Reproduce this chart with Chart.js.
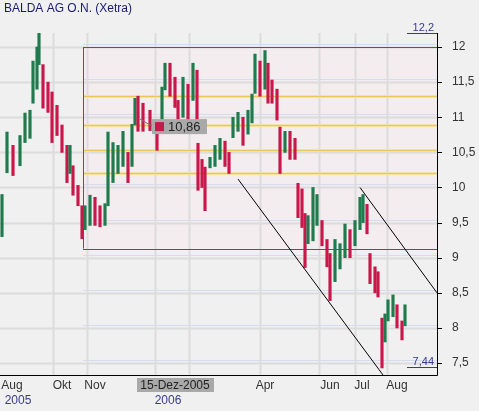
<!DOCTYPE html>
<html>
<head>
<meta charset="utf-8">
<script src="https://cdn.jsdelivr.net/npm/chart.js@4"></script>
<style>
  body { margin: 0; background: #f0f0f0; }
  #wrap { width: 479px; height: 411px; position: relative; }
</style>
</head>
<body>
<div id="wrap"><canvas id="chartBalda"></canvas></div>
<script>
// Kursdaten (Sitzungsindex, Tief, Hoch)
const sessions = [2,7,13,20,25,30,33,37,39,43,48,52,57,62,67,70,73,78,82,85,90,95,100,105,108,113,118,123,128,132,135,
  138,143,150,157,162,165,170,175,178,183,188,193,197,198,202,205,210,215,220,225,229,233,238,243,248,252,255,260,265,
  268,272,277,280,285,290,295,298,302,305,308,313,317,322,327,330,335,340,345,350,355,360,363,367,370,375,378,382,385,388,393,397,402,405]
const lows = [9.3,10.21,10.17,10.31,10.64,10.7,11.2,11.4,11.75,11.13,11.07,10.64,10.74,10.5,10.07,10.2,9.89,9.74,9.27,9.4,9.46,9.46,9.44,9.46,9.74,10.07,10.2,10.3,10.07,10.3,10.89,
  10.8,10.8,10.81,10.53,10.96,11.39,11.3,11.14,10.91,11.0,10.92,11.24,10.8,9.96,10.0,9.67,10.28,10.3,10.4,10.3,10.2,10.71,10.8,10.6,10.76,10.92,11.34,11.3,11.4,
  11.2,11.2,10.96,10.2,10.5,10.4,10.4,9.57,9.43,8.86,9.2,9.24,9.46,9.17,8.87,8.39,8.66,8.84,9.0,9.0,9.17,9.4,9.5,9.34,8.63,8.5,8.44,7.43,7.8,8.1,8.16,8.0,7.83,8.03]
const highs = [9.9,10.79,10.6,10.74,11.06,11.1,11.8,12.0,12.2,11.75,11.5,11.36,11.17,10.89,10.6,10.6,10.31,10.03,9.74,9.74,9.89,9.86,9.74,9.77,10.79,10.64,10.6,10.8,10.5,10.9,11.27,
  11.3,11.2,11.1,10.81,11.43,11.77,11.77,11.57,11.24,11.57,11.47,11.77,11.67,10.63,10.4,10.29,10.43,10.6,10.7,10.66,10.5,11.0,11.07,11.0,11.1,11.33,11.9,11.8,11.95,
  11.77,11.53,11.4,10.86,10.8,10.8,10.7,10.06,9.98,9.63,9.6,10.0,9.9,9.53,9.26,9.06,9.26,9.2,9.48,9.4,9.53,9.86,9.9,9.76,9.06,8.87,8.8,8.14,8.2,8.4,8.47,8.33,8.1,8.33]

// Achsen
const yTicks = [7.5, 8, 8.5, 9, 9.5, 10, 10.5, 11, 11.5, 12]
const gridSessions = [53, 87, 155, 189, 260, 319, 355, 387]
const monthLabels = ["Aug", "Okt", "Nov", "Apr", "Jun", "Jul", "Aug"]
const monthSessions = [12, 62, 95, 265, 330, 362, 397]
const yearLabels = ["2005", "2006"]
const yearSessions = [18, 168]

// Linien (Fibonacci, Widerstand/Unterstützung, Trendkanal)
const redLevels = [12.0, 9.13]
const fibLevels = [11.31, 10.89, 10.53, 10.21]
const fibStart = 83
const trendLow = [[238, 10.12], [383, 7.33]]
const trendHigh = [[360, 10.0], [437, 8.5]]

const FONT = "'Liberation Sans', Arial, sans-serif"
const fmt = v => String(v).replace(".", ",")
const colors = sessions.map((s, i) => {
    const mid = (lows[i] + highs[i]) / 2
    const prev = i ? (lows[i - 1] + highs[i - 1]) / 2 : mid
    return mid >= prev ? "#1f7a4d" : "#c8174a"
})

const overlay = {
    id: "overlay",
    beforeDatasetsDraw(chart) {
        const { ctx, chartArea: a, scales: { x, y } } = chart
        ctx.save()
        // rosa Hintergrund zwischen den roten Linien
        const x0 = x.getPixelForValue(fibStart)
        ctx.fillStyle = "#f4edf0"
        ctx.fillRect(x0, y.getPixelForValue(redLevels[0]), a.right - x0, y.getPixelForValue(redLevels[1]) - y.getPixelForValue(redLevels[0]))
        // horizontale Gitterlinien
        yTicks.forEach(v => {
            const py = Math.round(y.getPixelForValue(v)) + 0.5
            ctx.strokeStyle = "#dcdcdc"; ctx.lineWidth = 2
            ctx.beginPath(); ctx.moveTo(a.left, py); ctx.lineTo(a.right, py); ctx.stroke()
            ctx.strokeStyle = "#d5dcef"; ctx.lineWidth = 1
            ctx.beginPath(); ctx.moveTo(x0, py - 3); ctx.lineTo(a.right, py - 3); ctx.stroke()
        })
        gridSessions.forEach(s => {
            const px = Math.round(x.getPixelForValue(s)) + 0.5
            ctx.strokeStyle = "#dcdcdc"; ctx.lineWidth = 2
            ctx.beginPath(); ctx.moveTo(px, a.top); ctx.lineTo(px, a.bottom); ctx.stroke()
        })
        fibLevels.forEach(v => {
            const py = Math.round(y.getPixelForValue(v)) + 0.5
            ctx.strokeStyle = "#f3e3a0"; ctx.lineWidth = 3
            ctx.beginPath(); ctx.moveTo(x0, py); ctx.lineTo(a.right, py); ctx.stroke()
            ctx.strokeStyle = "#e8c85a"; ctx.lineWidth = 1
            ctx.beginPath(); ctx.moveTo(x0, py); ctx.lineTo(a.right, py); ctx.stroke()
        })
        ctx.strokeStyle = "#e02020"; ctx.lineWidth = 1
        redLevels.forEach(v => {
            const py = Math.round(y.getPixelForValue(v)) + 0.5
            ctx.beginPath(); ctx.moveTo(x0, py); ctx.lineTo(a.right, py); ctx.stroke()
        })
        ctx.beginPath()
        ctx.moveTo(x0 + 0.5, y.getPixelForValue(redLevels[0])); ctx.lineTo(x0 + 0.5, y.getPixelForValue(redLevels[1]))
        ctx.stroke()
        ctx.restore()
    },
    afterDatasetsDraw(chart) {
        const { ctx, chartArea: a, scales: { x, y } } = chart
        ctx.save()
        ctx.beginPath(); ctx.rect(a.left, a.top, a.right - a.left, a.bottom - a.top); ctx.clip()
        ctx.strokeStyle = "#000"; ctx.lineWidth = 1
        ;[trendLow, trendHigh].forEach(t => {
            ctx.beginPath()
            ctx.moveTo(x.getPixelForValue(t[0][0]), y.getPixelForValue(t[0][1]))
            ctx.lineTo(x.getPixelForValue(t[1][0]), y.getPixelForValue(t[1][1]))
            ctx.stroke()
        })
        ctx.restore()

        ctx.save()
        // Kursmarke 10,86
        const ly = y.getPixelForValue(10.86)
        ctx.strokeStyle = "#777"
        ctx.beginPath(); ctx.moveTo(x.getPixelForValue(140), ly - 8); ctx.lineTo(x.getPixelForValue(152), ly - 1); ctx.stroke()
        ctx.fillStyle = "#a9a9a9"
        ctx.fillRect(x.getPixelForValue(152), ly - 8, 55, 15)
        ctx.fillStyle = "#c8174a"
        ctx.fillRect(x.getPixelForValue(155), ly - 5, 9, 9)
        ctx.fillStyle = "#222"; ctx.font = "13px " + FONT; ctx.textBaseline = "middle"
        ctx.fillText("10,86", x.getPixelForValue(168), ly)
        // Hoch / Tief
        ctx.fillStyle = "#3a3a8c"; ctx.textAlign = "right"; ctx.textBaseline = "alphabetic"; ctx.font = "11px " + FONT
        ctx.fillText("12,2", a.right - 3, y.getPixelForValue(12.2) - 2)
        ctx.fillText("7,44", a.right - 3, y.getPixelForValue(7.44) - 2)
        ctx.strokeStyle = "#3a3a8c"
        ;[12.2, 7.44].forEach(v => {
            const py = Math.round(y.getPixelForValue(v)) + 0.5
            ctx.beginPath(); ctx.moveTo(a.right - 30, py); ctx.lineTo(a.right, py); ctx.stroke()
        })
        // Achsenrahmen
        ctx.strokeStyle = "#000"
        ctx.beginPath(); ctx.moveTo(a.left, a.bottom + 0.5); ctx.lineTo(a.right + 0.5, a.bottom + 0.5); ctx.lineTo(a.right + 0.5, a.top); ctx.stroke()
        ctx.beginPath()
        yTicks.forEach(v => {
            const py = Math.round(y.getPixelForValue(v)) + 0.5
            ctx.moveTo(a.right, py); ctx.lineTo(a.right + 5, py)
        })
        ctx.stroke()
        // Monats- und Jahresbeschriftung
        ctx.textAlign = "center"; ctx.textBaseline = "top"; ctx.font = "12px " + FONT
        ctx.fillStyle = "#333"
        monthLabels.forEach((m, i) => ctx.fillText(m, x.getPixelForValue(monthSessions[i]), a.bottom + 5))
        ctx.fillStyle = "#a9a9a9"
        ctx.fillRect(x.getPixelForValue(137), a.bottom + 3, 77, 14)
        ctx.fillStyle = "#222"
        ctx.fillText("15-Dez-2005", x.getPixelForValue(175), a.bottom + 5)
        ctx.fillStyle = "#3a3a8c"
        yearLabels.forEach((m, i) => ctx.fillText(m, x.getPixelForValue(yearSessions[i]), a.bottom + 20))
        // Titel
        ctx.textAlign = "left"; ctx.font = "12px " + FONT; ctx.fillStyle = "#1a1a6e"
        ctx.fillText("BALDA AG O.N. (Xetra)", 4, 3)
        ctx.restore()
    }
}

new Chart(document.getElementById("chartBalda"), {
    type: "bar",
    data: {
        datasets: [{
            label: "BALDA",
            data: sessions.map((s, i) => ({ x: s, y: [lows[i], highs[i]] })),
            backgroundColor: colors,
            barThickness: 2.5,
            borderSkipped: false
        }]
    },
    plugins: [overlay],
    options: {
        responsive: true,
        maintainAspectRatio: false,
        animation: false,
        layout: { padding: { top: 33, left: 0, right: 0, bottom: 0 } },
        plugins: { legend: { display: false }, tooltip: { enabled: false } },
        scales: {
            x: {
                type: "linear", min: 0, max: 437, offset: false,
                grid: { display: false }, border: { display: false },
                ticks: { display: false },
                afterFit: s => { s.height = 36 }
            },
            y: {
                position: "right", min: 7.33, max: 12.2,
                grid: { display: false }, border: { display: false },
                afterBuildTicks: s => { s.ticks = yTicks.map(v => ({ value: v })) },
                ticks: { callback: v => fmt(v), color: "#333", font: { family: FONT, size: 12 }, padding: 7 },
                afterFit: s => { s.width = 42 }
            }
        }
    }
})
</script>
</body>
</html>
